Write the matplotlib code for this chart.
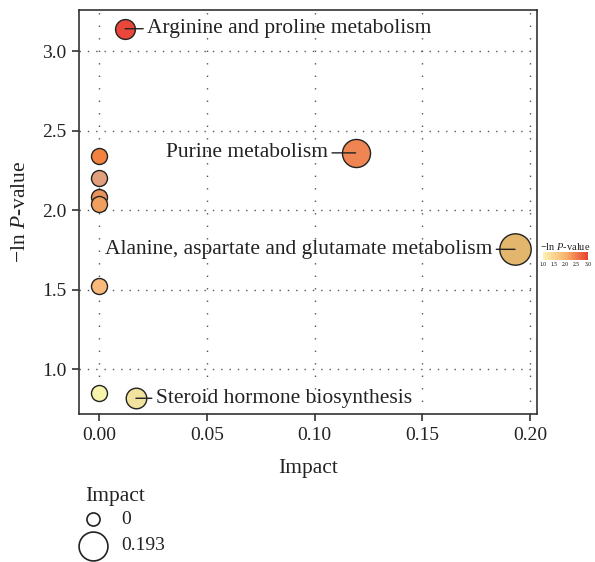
import numpy as np
import matplotlib
matplotlib.use('Agg')
import matplotlib.pyplot as plt
from matplotlib.colors import LinearSegmentedColormap
from matplotlib.colorbar import ColorbarBase
from matplotlib.colors import Normalize

plt.rcParams['font.family'] = ['Liberation Serif', 'DejaVu Serif']
plt.rcParams['mathtext.fontset'] = 'custom'
plt.rcParams['mathtext.rm'] = 'Liberation Serif'
plt.rcParams['mathtext.it'] = 'Liberation Serif:italic'

# pathway data
pathways = ['Arginine and proline metabolism', 'Purine metabolism',
            'Alanine, aspartate and glutamate metabolism', '', '', '', '', '', '',
            'Steroid hormone biosynthesis']
impact = [0.012, 0.119, 0.193, 0.0, 0.0, 0.0, 0.0, 0.0, 0.0, 0.017]
neg_log_p = [3.14, 2.36, 1.754, 2.34, 2.20, 2.083, 2.039, 1.524, 0.853, 0.818]
point_colors = ['#e8473a', '#ef8552', '#e2b66c', '#f1823f', '#e29f7c', '#e9925a',
                '#f09f5e', '#f9b97b', '#f6f3ab', '#f1e39e']
# label offsets (points) and alignment
label_dx = [16, -20, -16.5, 0, 0, 0, 0, 0, 0, 14.5]
label_ha = ['left', 'right', 'right', '', '', '', '', '', '', 'left']

cbar_ticks = [1.0, 1.5, 2.0, 2.5, 3.0]
legend_impact = [0, 0.193]

DPI = 100
PT = 72 / DPI
WORD_FS = 15.5
NUM_FS = 14


def marker_area(imp, scale=1.0):
    r_px = (8 + 17.5 * np.sqrt(imp)) * scale
    return (2 * r_px * PT) ** 2


fig = plt.figure(figsize=(5.95, 5.62), dpi=DPI)
ax = fig.add_axes([0.1328, 0.2633, 0.769, 0.7184])

for i in range(len(impact)):
    ax.scatter(impact[i], neg_log_p[i], s=marker_area(impact[i]), c=point_colors[i],
               edgecolors='#222222', linewidths=1.0, zorder=3 + i * 0.01)
    if pathways[i]:
        ax.annotate(pathways[i], xy=(impact[i], neg_log_p[i]),
                    xytext=(label_dx[i], 0), textcoords='offset points',
                    ha=label_ha[i], va='center', fontsize=WORD_FS, color='#222222',
                    arrowprops=dict(arrowstyle='-', color='#222222', lw=1.0,
                                    shrinkA=1, shrinkB=0),
                    zorder=5)

ax.set_xlim(-0.0094, 0.203)
ax.set_ylim(0.719, 3.256)
ax.set_xticks([0.00, 0.05, 0.10, 0.15, 0.20])
ax.set_xticklabels(['0.00', '0.05', '0.10', '0.15', '0.20'])
ax.set_yticks([1.0, 1.5, 2.0, 2.5, 3.0])
ax.set_yticklabels(['1.0', '1.5', '2.0', '2.5', '3.0'])
ax.tick_params(labelsize=NUM_FS, length=5, width=1.2, color='#333333', labelcolor='#222222', pad=4)
ax.xaxis.grid(True, linestyle=(0, (1, 8)), color='#555555', lw=1.0)
ax.yaxis.grid(True, linestyle=(0, (1, 5)), color='#555555', lw=1.0)
ax.set_axisbelow(True)
for sp in ax.spines.values():
    sp.set_color('#333333')
    sp.set_linewidth(1.2)

ax.set_xlabel('Impact', fontsize=WORD_FS, color='#222222', labelpad=11)
ax.set_ylabel('−ln $P$-value', fontsize=WORD_FS, color='#222222', labelpad=9)

# colour key
cmap = LinearSegmentedColormap.from_list('heat', ['#fdf1b4', '#f8b46c', '#e8402e'])
cax = fig.add_axes([0.9126, 0.537, 0.0756, 0.0142])
cb = ColorbarBase(cax, cmap=cmap, norm=Normalize(1.0, 3.0), orientation='horizontal',
                  ticks=cbar_ticks)
cb.outline.set_visible(False)
cb.ax.tick_params(labelsize=4, length=0, pad=1.5)
cb.ax.set_xticklabels(['1.0', '1.5', '2.0', '2.5', '3.0'])
cax.set_title('−ln $P$-value', fontsize=7.5, pad=1.5, color='#222222')

# size key
lax = fig.add_axes([0, 0, 1, 1], facecolor='none')
lax.set_xlim(0, 595)
lax.set_ylim(562, 0)
lax.axis('off')
lax.text(85, 497, 'Impact', fontsize=WORD_FS, ha='left', va='center', color='#222222')
for k, (imp, yy) in enumerate(zip(legend_impact, [519, 546])):
    lax.scatter(92.5, yy, s=marker_area(imp, 0.82 if imp == 0 else 0.92), facecolors='white',
                edgecolors='#222222', linewidths=1.2)
    lax.text(121, yy, str(imp), fontsize=NUM_FS, ha='left', va='center', color='#222222')

fig.savefig('out.png', dpi=DPI)
